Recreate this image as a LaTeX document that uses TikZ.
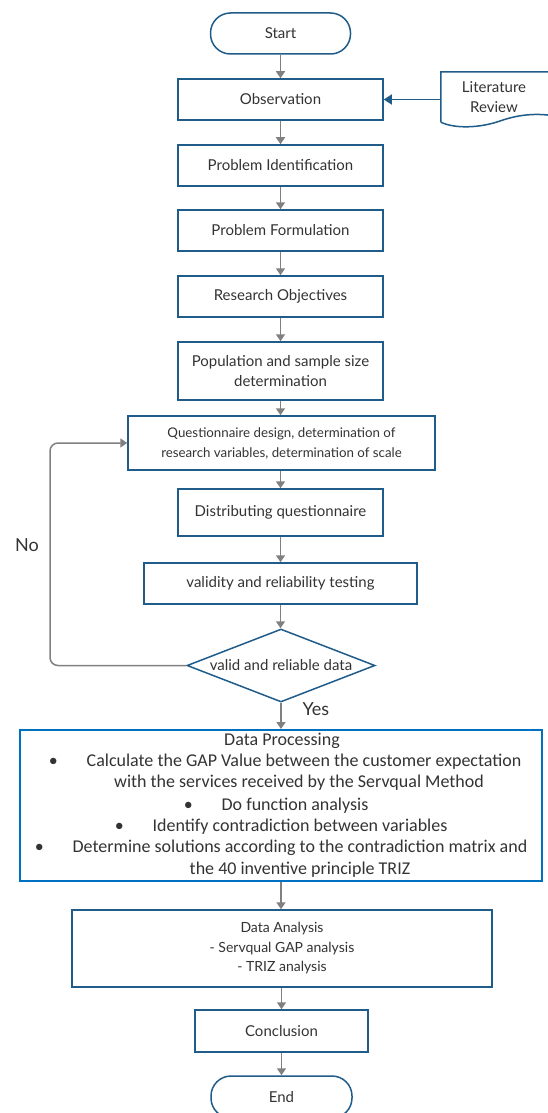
\documentclass[tikz,border=0pt]{standalone}
\usepackage{fontspec}
\setmainfont{Lato}
\newfontfamily\calib{Carlito}
\usetikzlibrary{shapes.geometric,arrows.meta}
\definecolor{boxblue}{RGB}{31,92,138}
\definecolor{dpblue}{RGB}{0,112,192}
\definecolor{arrowgray}{RGB}{128,128,128}
\definecolor{txt}{RGB}{51,51,51}
\tikzset{
  proc/.style={draw=boxblue, line width=1.5pt, rectangle, inner sep=0pt, text=txt,
    font=\fontsize{15}{20}\selectfont, align=center},
  term/.style={proc, rounded corners=20pt, minimum width=140pt, minimum height=41pt},
  decision/.style={draw=boxblue, line width=1.5pt, diamond, aspect=2.56, inner sep=0pt,
    minimum width=188pt, minimum height=73pt, text=txt, font=\fontsize{15}{17}\selectfont},
  flow/.style={draw=arrowgray, line width=1.5pt, -{Triangle[width=9pt,length=7pt]}},
  blueflow/.style={draw=boxblue, line width=1.5pt, -{Triangle[width=10pt,length=8pt]}},
  lbl/.style={text=txt, font=\fontsize{18}{20}\selectfont, inner sep=0pt},
  dptext/.style={text=txt, font=\calib\fontsize{18}{21}\selectfont, inner sep=0pt},
}
\begin{document}
\begin{tikzpicture}[x=1pt,y=-1pt]
\useasboundingbox (0,0) rectangle (547,1113);

\node[term] (start) at (280.5,33.5) {Start};
\node[proc, minimum width=205pt, minimum height=41pt] (obs) at (280.5,99.5) {Observation};
\node[proc, minimum width=205pt, minimum height=41pt] (pid) at (280.5,165.5) {Problem Identification};
\node[proc, minimum width=205pt, minimum height=41pt] (pf) at (280.5,230.5) {Problem Formulation};
\node[proc, minimum width=205pt, minimum height=41pt] (ro) at (280.5,296.5) {Research Objectives};
\node[proc, minimum width=205pt, minimum height=58pt] (pop) at (280.5,371) {Population and sample size\\determination};
\node[proc, minimum width=307pt, minimum height=54pt, font=\fontsize{13.3}{20}\selectfont] (qd) at (281.5,443) {Questionnaire design, determination of\\research variables, determination of scale};
\node[proc, minimum width=205pt, minimum height=47pt] (dq) at (280.5,512.5) {Distributing questionnaire};
\node[proc, minimum width=273pt, minimum height=41pt] (vr) at (280.5,583.5) {validity and reliability testing};
\node[decision] (dia) at (281,665.5) {valid and reliable data};
\node[proc, draw=dpblue, line width=2pt, minimum width=522pt, minimum height=151pt] (dp) at (281,805.5) {};
\node[proc, minimum width=420pt, minimum height=77pt, font=\fontsize{14}{19.5}\selectfont] (da) at (282,948.5) {Data Analysis\\- Servqual GAP analysis\\- TRIZ analysis};
\node[proc, minimum width=173pt, minimum height=42pt] (conc) at (281.5,1031) {Conclusion};
\node[term, minimum width=141pt, minimum height=42pt] (end) at (281.5,1097) {End};

% Literature review document shape
\node[inner sep=0pt, minimum width=106pt, minimum height=50pt, text=txt, align=center,
      font=\fontsize{15}{20}\selectfont] (lit) at (494,97) {Literature\\Review};
\draw[boxblue, line width=1.5pt] (lit.south west) -- (lit.north west) -- (565,72) -- (565,118)
  .. controls (540,112) and (520,114) .. (500,121)
  .. controls (480,128) and (455,129) .. (lit.south west);

% Data processing text
\node[dptext] (dp0) at (282,741) {Data Processing};
\node[dptext] (dp1) at (304,762) {Calculate the GAP Value between the customer expectation};
\node[dptext] (dp2) at (299,783) {with the services received by the Servqual Method};
\node[dptext] (dp3) at (295,806) {Do function analysis};
\node[dptext] (dp4) at (300,827) {Identify contradiction between variables};
\node[dptext] (dp5) at (300,848) {Determine solutions according to the contradiction matrix and};
\node[dptext] (dp6) at (300,870) {the 40 inventive principle TRIZ};
\node[dptext] (b1) at ([xshift=-33pt]dp1.west) {•};
\node[dptext] (b3) at ([xshift=-33pt]dp3.west) {•};
\node[dptext] (b4) at ([xshift=-33pt]dp4.west) {•};
\node[dptext] (b5) at ([xshift=-33pt]dp5.west) {•};

% labels
\node[lbl] (no) at (27,545) {No};
\node[lbl] (yes) at (316,709) {Yes};

% connectors
\draw[flow] (start.south) -- (start.south |- obs.north);
\draw[flow] (obs.south) -- (obs.south |- pid.north);
\draw[flow] (pid.south) -- (pid.south |- pf.north);
\draw[flow] (pf.south) -- (pf.south |- ro.north);
\draw[flow] (ro.south) -- (ro.south |- pop.north);
\draw[flow] (pop.south) -- (pop.south |- qd.north);
\draw[flow] (dq.north |- qd.south) -- (dq.north);
\draw[flow] (dq.south) -- (dq.south |- vr.north);
\draw[flow] (vr.south) -- (vr.south |- dia.north);
\draw[flow] (dia.south) -- (dia.south |- dp.north);
\draw[flow] (dp.south) -- (dp.south |- da.north);
\draw[flow] (conc.north |- da.south) -- (conc.north);
\draw[flow] (conc.south) -- (conc.south |- end.north);
\coordinate (loopx) at (50,0);
\draw[flow, rounded corners=8pt] (dia.west) -- (loopx |- dia.west) -- (loopx |- qd.west) -- (qd.west);
\draw[blueflow] (lit.west |- obs.east) -- (obs.east);
\end{tikzpicture}
\end{document}
